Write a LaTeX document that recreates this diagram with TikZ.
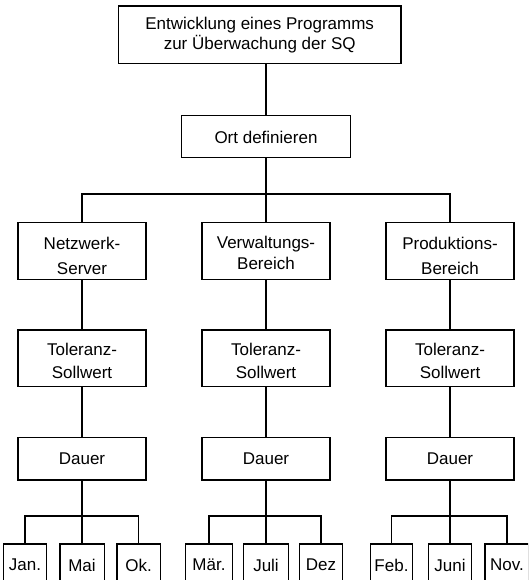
\documentclass[tikz,border=0pt]{standalone}
\usepackage{fontspec}
\setmainfont{Liberation Sans}
\begin{document}
\begin{tikzpicture}[x=1pt,y=-1pt,line width=1.3pt,
  box/.style={draw,line width=1.3pt,inner sep=0pt,align=center,
    font=\fontsize{17}{20}\selectfont},
  lab/.style={inner sep=0pt,align=center,font=\fontsize{17}{20}\selectfont},
  lvl/.style={box,minimum width=128pt,minimum height=57pt},
  tol/.style={box,minimum width=128pt,minimum height=56.5pt},
  dau/.style={box,minimum width=128pt,minimum height=42.7pt},
  mon/.style={box,minimum height=42pt}]
\useasboundingbox (0,0) rectangle (528,580);
\clip (0,0) rectangle (528,580);
% top
\node[box,minimum width=282.7pt,minimum height=57.3pt,
  label={[lab,yshift=-0.8pt]center:{Entwicklung eines Programms\\zur Überwachung der SQ}}]
  (top) at (259.7,34.7) {};
\node[box,minimum width=169.3pt,minimum height=42pt,
  label={[lab,yshift=-1pt]center:{Ort definieren}}] (ort) at (266,136.7) {};
% level 2
\node[lvl,label={[lab,yshift=-5pt]center:{Netzwerk-\\[5pt]Server}}] (na) at (82,251.3) {};
\node[lvl,label={[lab,yshift=-1.7pt]center:{Verwaltungs-\\[1.5pt]Bereich}}] (nb) at (266,251.3) {};
\node[lvl,label={[lab,yshift=-5pt]center:{Produktions-\\[5pt]Bereich}}] (nc) at (450,251.3) {};
% toleranz
\node[tol,label={[lab,yshift=-2.8pt]center:{Toleranz-\\[2.5pt]Sollwert}}] (ta) at (82,358.3) {};
\node[tol,label={[lab,yshift=-2.8pt]center:{Toleranz-\\[2.5pt]Sollwert}}] (tb) at (266,358.3) {};
\node[tol,label={[lab,yshift=-2.8pt]center:{Toleranz-\\[2.5pt]Sollwert}}] (tc) at (450,358.3) {};
% dauer
\node[dau] (da) at (82,458.7) {Dauer};
\node[dau] (db) at (266,458.7) {Dauer};
\node[dau] (dc) at (450,458.7) {Dauer};
% months
\node[mon,minimum width=42.7pt] (m1) at (25,565) {Jan.};
\node[mon,minimum width=44.3pt] (m2) at (82,565) {Mai};
\node[mon,minimum width=43.3pt] (m3) at (138.5,565) {Ok.};
\node[mon,minimum width=47pt] (m4) at (209,565) {Mär.};
\node[mon,minimum width=45.6pt] (m5) at (266,565) {Juli};
\node[mon,minimum width=42.7pt] (m6) at (321,565) {Dez};
\node[mon,minimum width=41.7pt] (m7) at (391.5,565) {Feb.};
\node[mon,minimum width=43.3pt] (m8) at (450,565) {Juni};
\node[mon,minimum width=44pt] (m9) at (507,565) {Nov.};
% bus coordinates
\coordinate (busA) at (0,194);
\coordinate (busB) at (0,516);
% connectors
\draw (ort.north) -- (ort.north |- top.south);
\draw (ort.south) -- (ort.south |- busA);
\draw (na.north) -- (na.north |- busA) -- (nc.north |- busA) -- (nc.north);
\draw (nb.north) -- (nb.north |- busA);
\foreach \a/\b/\c in {na/ta/da,nb/tb/db,nc/tc/dc}{
  \draw (\a.south) -- (\b.north);
  \draw (\b.south) -- (\c.north);
}
\foreach \d/\l/\m/\r in {da/m1/m2/m3,db/m4/m5/m6,dc/m7/m8/m9}{
  \draw (\d.south) -- (\d.south |- busB);
  \draw (\l.north) -- (\l.north |- busB) -- (\r.north |- busB) -- (\r.north);
  \draw (\m.north) -- (\m.north |- busB);
}
\end{tikzpicture}
\end{document}
